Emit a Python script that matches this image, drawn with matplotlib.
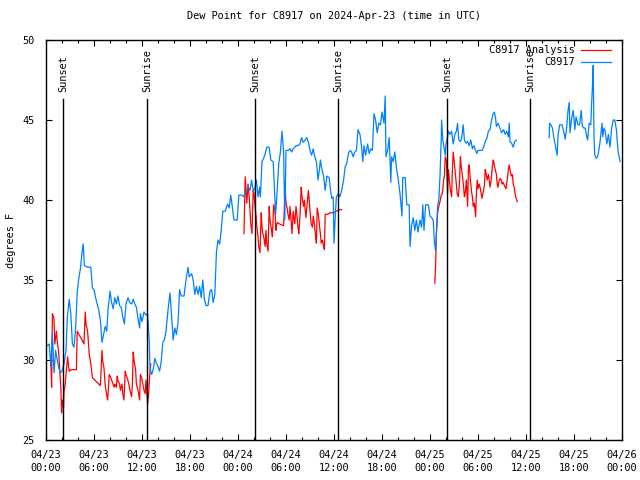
import datetime as dt

import matplotlib
matplotlib.use("Agg")
import matplotlib.pyplot as plt
import matplotlib.dates as mdates
import numpy as np

# ── Data (hours after 2024-04-23 00:00 UTC, dew point in F) ──────────
obs_hours = [
    0.17, 0.4, 0.6, 0.8, 1.0, 1.2, 1.4, 1.6, 1.8, 2.0, 2.25, 2.5, 2.67, 2.9,
    3.1, 3.3, 3.5, 3.7, 3.9, 4.1, 4.3, 4.5, 4.65, 4.8, 5.2, 5.6, 5.8, 6.0,
    6.2, 6.4, 6.6, 6.8, 7.0, 7.2, 7.4, 7.6, 7.75, 8.0, 8.2, 8.4, 8.6, 8.8,
    9.0, 9.2, 9.4, 9.6, 9.8, 10.0, 10.25, 10.45, 10.7, 10.9, 11.1, 11.3,
    11.5, 11.7, 11.8, 12.0, 12.25, 12.5, 12.7, 12.9, 13.0, 13.2, 13.4, 13.6,
    13.8, 14.0, 14.2, 14.4, 14.6, 14.8, 15.0, 15.25, 15.5, 15.7, 15.9, 16.1,
    16.3, 16.5, 16.7, 16.9, 17.25, 17.5, 17.75, 17.9, 18.2, 18.4, 18.6, 18.8,
    19.0, 19.2, 19.4, 19.6, 19.8, 20.0, 20.25, 20.5, 20.7, 20.9, 21.1, 21.3,
    21.5, 21.7, 21.9, 22.1, 22.4, 22.7, 22.9, 23.1, 23.3, 23.5, 23.9, 24.1,
    24.5, 24.7, 24.9, 25.1, 25.3, 25.5, 25.7, 25.9, 26.1, 26.3, 26.5, 26.7,
    26.8, 27.0, 27.2, 27.4, 27.6, 27.9, 28.1, 28.4, 28.55, 28.7, 28.9, 29.1,
    29.3, 29.5, 29.7, 29.85, 30.0, 30.3, 30.5, 30.7, 30.9, 31.1, 31.3, 31.5,
    31.75, 31.95, 32.15, 32.4, 32.6, 32.8, 33.0, 33.2, 33.4, 33.6, 33.8,
    34.0, 34.15, 34.3, 34.45, 34.7, 34.9, 35.1, 35.4, 35.5, 35.7, 35.9, 36.0,
    36.2, 36.3, 36.55, 36.75, 36.95, 37.2, 37.4, 37.6, 37.8, 38.0, 38.2,
    38.4, 38.6, 38.8, 39.0, 39.25, 39.45, 39.6, 39.75, 39.95, 40.2, 40.4,
    40.6, 40.8, 41.0, 41.2, 41.4, 41.6, 41.8, 42.0, 42.25, 42.4, 42.5, 42.7,
    42.9, 43.1, 43.2, 43.4, 43.6, 43.8, 44.0, 44.25, 44.5, 44.6, 44.9, 45.1,
    45.4, 45.5, 45.7, 45.9, 46.1, 46.3, 46.5, 46.75, 46.95, 47.1, 47.25,
    47.45, 47.8, 48.0, 48.2, 48.4, 48.55, 48.7, 48.8, 48.95, 49.1, 49.25,
    49.4, 49.45, 49.6, 49.75, 49.9, 50.0, 50.2, 50.3, 50.5, 50.7, 50.9, 51.1,
    51.3, 51.45, 51.6, 51.8, 51.95, 52.15, 52.3, 52.5, 52.7, 52.9, 53.1,
    53.3, 53.5, 53.7, 53.85, 54.0, 54.25, 54.5, 54.7, 54.9, 55.1, 55.3, 55.5,
    55.7, 55.9, 56.05, 56.2, 56.3, 56.5, 56.75, 56.95, 57.2, 57.4, 57.6,
    57.8, 57.9, 58.0, 58.2, 58.4, 58.6, 58.8,
    60.8,
    62.9, 62.95, 63.1, 63.3, 63.5, 63.7, 63.9, 64.0, 64.2, 64.5, 64.7, 64.9,
    65.1, 65.25, 65.4, 65.5, 65.7, 65.9, 66.1, 66.25, 66.5, 66.7, 66.9,
    67.05, 67.2, 67.4, 67.6, 67.7, 67.9, 68.1, 68.2, 68.35, 68.4, 68.5, 68.6,
    68.8, 69.0, 69.25, 69.5, 69.6, 69.75, 69.9, 70.1, 70.3, 70.5, 70.7, 70.9,
    71.1, 71.3, 71.5, 71.75,
]
obs_dewpt = [
    30.9, 31.0, 29.6, 31.7, 29.2, 30.6, 30.0, 29.5, 29.2, 29.3, 29.75, 30.6,
    32.7, 33.8, 32.9, 31.0, 30.8, 32.0, 34.2, 35.1, 35.7, 36.7, 37.25, 35.9,
    35.8, 35.8, 34.5, 34.4, 33.9, 33.5, 33.1, 32.5, 31.1, 31.6, 32.1, 31.8,
    33.1, 34.3, 33.6, 33.2, 33.9, 33.5, 34.0, 33.4, 33.3, 32.7, 32.25, 33.5,
    33.9, 33.6, 33.5, 33.8, 33.5, 33.3, 32.6, 32.0, 32.9, 32.4, 33.0, 32.8,
    32.9, 31.2, 29.5, 29.1, 29.4, 30.1, 29.8, 29.6, 29.3, 29.9, 31.1, 31.25,
    31.8, 33.1, 34.2, 32.7, 31.25, 32.0, 31.6, 32.3, 34.4, 34.0, 34.0, 35.0,
    35.8, 35.2, 35.4, 35.0, 34.1, 34.6, 34.1, 34.6, 33.9, 35.0, 33.8, 33.4,
    33.4, 34.3, 34.4, 33.6, 34.1, 36.7, 37.5, 37.25, 38.1, 39.3, 39.3, 39.75,
    39.5, 40.3, 39.5, 38.75, 38.75, 40.3, 40.3, 40.2, 40.4, 40.6, 40.8, 40.6,
    41.25, 40.6, 40.7, 41.25, 40.2, 40.8, 40.2, 42.4, 42.6, 42.9, 43.3, 43.3,
    42.5, 42.4, 40.8, 39.1, 40.6, 42.3, 43.0, 44.3, 43.0, 38.75, 43.1, 43.1,
    43.2, 43.0, 43.2, 43.3, 43.4, 43.4, 43.5, 43.9, 43.6, 43.75, 43.9, 43.6,
    43.1, 42.8, 43.2, 42.7, 42.4, 41.25, 41.8, 42.5, 42.0, 41.5, 40.6, 41.5,
    41.4, 40.9, 40.1, 40.2, 37.3, 39.4, 40.2, 40.4, 40.2, 40.6, 41.25, 42.1,
    42.3, 42.9, 43.1, 43.0, 42.7, 43.0, 43.1, 44.4, 44.1, 43.3, 42.4, 43.4,
    42.8, 43.5, 42.9, 43.2, 43.1, 45.4, 45.0, 44.2, 44.8, 44.7, 45.5, 44.8,
    46.5, 42.7, 43.1, 43.9, 41.1, 42.7, 42.4, 43.0, 42.0, 41.4, 40.4, 39.0,
    41.4, 41.4, 39.7, 39.7, 37.1, 38.4, 38.9, 38.1, 38.75, 38.0, 38.75, 38.3,
    39.7, 38.1, 39.7, 39.7, 39.0, 38.9, 38.75, 37.4, 36.8, 37.9, 39.6, 40.0,
    41.5, 43.75, 45.0, 43.75, 43.3, 42.8, 43.5, 43.96, 44.3, 44.1, 44.3, 43.5,
    44.1, 44.3, 44.8, 43.75, 43.65, 43.85, 44.7, 43.75, 43.55, 43.65, 43.4,
    43.75, 43.2, 43.4, 43.1, 42.9, 43.1, 43.1, 43.1, 43.3, 43.65, 43.85,
    44.3, 44.4, 45.0, 45.4, 45.5, 45.1, 44.6, 44.8, 44.5, 44.2, 44.4, 44.1,
    44.3, 43.95, 44.8, 43.65, 43.55, 43.3, 43.65, 43.75,
    np.nan,
    43.9, 44.8, 44.7, 44.5, 43.85, 43.3, 42.8, 44.0, 44.7, 44.7, 44.3, 43.8,
    44.6, 45.6, 46.1, 44.2, 45.1, 45.6, 44.4, 45.2, 44.7, 44.7, 45.6, 44.6,
    44.5, 44.5, 43.95, 43.75, 44.8, 44.7, 46.0, 47.6, 48.4, 43.95, 42.8, 42.6,
    42.8, 43.6, 44.8, 43.95, 44.5, 44.3, 43.5, 44.1, 43.3, 44.5, 45.0, 45.0,
    44.4, 43.1, 42.4,
]

ana_hours = [
    0.6, 0.7, 0.8, 1.0, 1.1, 1.3, 1.4, 1.6, 1.7, 1.85, 1.95, 2.05, 2.2, 2.25,
    2.4, 2.5, 2.7, 2.8, 2.9, 3.2, 3.5, 3.8, 3.9, 4.1, 4.35, 4.55, 4.75, 4.9,
    5.0, 5.2, 5.4, 5.6, 5.8, 6.0, 6.2, 6.4, 6.6, 6.8, 7.0, 7.1, 7.25, 7.4,
    7.5, 7.7, 7.8, 7.9, 8.1, 8.3, 8.5, 8.6, 8.8, 8.9, 9.0, 9.2, 9.3, 9.5,
    9.6, 9.75, 9.9, 10.0, 10.2, 10.35, 10.5, 10.7, 10.8, 10.9, 11.0, 11.2,
    11.3, 11.5, 11.7, 11.8, 11.95, 12.1, 12.25, 12.4, 12.5, 12.7, 12.8, 13.0,
    13.1,
    19.0,
    24.75, 24.9, 25.0, 25.1, 25.25, 25.4, 25.5, 25.6, 25.75, 25.9, 26.0,
    26.1, 26.25, 26.4, 26.5, 26.6, 26.75, 26.9, 27.0, 27.1, 27.25, 27.4,
    27.5, 27.6, 27.75, 27.9, 28.0, 28.2, 28.3, 28.45, 28.6, 28.75, 28.85,
    28.95, 29.2, 29.7, 29.9, 30.0, 30.1, 30.25, 30.4, 30.5, 30.6, 30.75,
    30.9, 31.0, 31.1, 31.25, 31.4, 31.5, 31.6, 31.75, 31.9, 32.0, 32.2,
    32.3, 32.4, 32.5, 32.65, 32.8, 32.9, 33.0, 33.15, 33.3, 33.4, 33.55,
    33.7, 33.8, 33.9, 34.05, 34.2, 34.3, 34.4, 34.55, 34.7, 34.8, 34.9,
    35.2, 35.5, 35.9, 36.3, 36.75, 36.95,
    42.0,
    48.6, 48.7, 48.8, 48.95, 49.1, 49.25, 49.4, 49.55, 49.7, 49.8, 49.9,
    50.05, 50.2, 50.3, 50.4, 50.55, 50.7, 50.8, 50.9, 51.05, 51.2, 51.3,
    51.4, 51.55, 51.7, 51.8, 51.9, 52.05, 52.2, 52.3, 52.4, 52.55, 52.7,
    52.8, 52.9, 53.05, 53.2, 53.3, 53.4, 53.55, 53.7, 53.8, 53.9, 54.0,
    54.15, 54.3, 54.4, 54.5, 54.65, 54.8, 54.9, 55.0, 55.15, 55.3, 55.4,
    55.5, 55.65, 55.8, 55.9, 56.0, 56.15, 56.3, 56.4, 56.5, 56.65, 56.8,
    56.9, 57.0, 57.15, 57.3, 57.4, 57.5, 57.65, 57.8, 57.9, 58.0, 58.15,
    58.3, 58.4, 58.55, 58.7, 58.8, 58.9,
]
ana_dewpt = [
    30.2, 28.3, 32.9, 32.6, 31.0, 31.8, 31.2, 30.4, 29.5, 28.3, 26.7, 27.5,
    27.0, 28.0, 28.5, 29.1, 30.2, 29.75, 29.3, 29.4, 29.4, 29.4, 31.8, 31.6,
    31.4, 31.2, 31.0, 33.0, 32.25, 31.8, 30.4, 29.75, 28.9, 28.8, 28.7, 28.6,
    28.5, 28.4, 30.6, 29.9, 29.5, 28.4, 28.1, 27.5, 28.2, 29.1, 28.9, 28.6,
    28.3, 28.5, 28.3, 29.0, 28.7, 28.5, 28.1, 28.5, 27.9, 27.5, 29.3, 29.1,
    28.8, 28.5, 28.1, 27.7, 28.5, 30.5, 30.0, 29.4, 28.5, 28.1, 27.5, 29.1,
    28.9, 28.5, 28.1, 27.9, 28.75, 27.25, 27.7, 29.3, 29.75,
    np.nan,
    37.9, 41.45, 40.6, 39.8, 41.0, 40.2, 39.4, 38.5, 37.9, 40.6, 40.4, 39.8,
    39.0, 38.1, 37.7, 37.1, 36.7, 39.2, 38.3, 37.9, 37.6, 37.1, 38.1, 37.3,
    36.8, 39.6, 38.75, 38.1, 37.7, 39.7, 39.4, 38.1, 38.5, 38.6, 38.5, 38.4,
    40.7, 39.8, 39.6, 39.1, 38.75, 39.6, 39.0, 37.9, 39.3, 38.9, 38.5, 39.6,
    38.9, 38.3, 37.9, 39.0, 40.8, 40.2, 39.6, 40.0, 39.4, 38.9, 39.8, 40.6,
    40.0, 39.3, 38.5, 38.3, 39.0, 38.5, 37.7, 37.3, 39.5, 39.1, 38.3, 37.9,
    37.3, 37.5, 37.1, 36.9, 39.1, 39.1, 39.2, 39.2, 39.3, 39.4, 39.4,
    np.nan,
    34.8, 35.9, 37.9, 39.2, 39.6, 39.9, 40.3, 40.4, 41.25, 41.5, 42.7, 42.5,
    40.4, 41.9, 41.35, 40.6, 40.2, 41.9, 43.0, 42.3, 41.5, 41.0, 40.4, 40.2,
    41.25, 42.7, 42.1, 41.5, 40.8, 40.2, 40.4, 41.25, 39.6, 41.9, 42.2, 41.25,
    40.5, 40.2, 39.6, 39.8, 38.96, 40.4, 41.25, 40.7, 41.0, 40.7, 40.4, 40.1,
    40.5, 40.9, 41.9, 41.7, 41.25, 41.6, 41.25, 40.8, 41.25, 42.1, 42.5,
    42.3, 41.9, 41.6, 41.0, 40.8, 41.25, 41.35, 41.25, 41.0, 41.1, 40.9,
    40.8, 40.7, 41.25, 41.9, 42.2, 41.9, 41.5, 41.6, 41.0, 40.7, 40.2, 40.1,
    39.9,
]

sun_hours = [2.17, 12.67, 26.17, 36.5, 50.17, 60.5]
sun_labels = ["Sunset", "Sunrise", "Sunset", "Sunrise", "Sunset", "Sunrise"]

BASE = dt.datetime(2024, 4, 23)
MONO = "DejaVu Sans Mono"
FS = 7.4
RED = "#ff0000"
BLUE = "#0080ff"


def to_times(hours):
    return [BASE + dt.timedelta(hours=h) for h in hours]


def main():
    fig = plt.figure(figsize=(6.4, 4.8), dpi=100)
    ax = fig.add_axes([46 / 640, 40 / 480, 576 / 640, 400 / 480])

    ax.plot(to_times(ana_hours), ana_dewpt, color=RED, lw=0.9)
    ax.plot(to_times(obs_hours), obs_dewpt, color=BLUE, lw=0.9)

    # sunrise / sunset markers
    for h, lab in zip(sun_hours, sun_labels):
        t = BASE + dt.timedelta(hours=h)
        ax.plot([t, t], [25, 46.3], color="black", lw=1.0)
        ax.text(t, 46.75, lab, rotation=90, ha="center", va="bottom",
                fontsize=FS, family=MONO)

    ax.set_xlim(BASE, BASE + dt.timedelta(hours=72))
    ax.set_ylim(25, 50)
    ax.set_yticks([25, 30, 35, 40, 45, 50])

    ax.xaxis.set_major_locator(mdates.HourLocator(byhour=[0, 6, 12, 18]))
    ax.xaxis.set_minor_locator(mdates.HourLocator(interval=2))
    ax.xaxis.set_major_formatter(mdates.DateFormatter("%m/%d\n%H:%M"))

    ax.tick_params(which="both", direction="in", top=True, right=True,
                   labelsize=FS, width=0.8)
    ax.tick_params(which="major", length=4.5)
    ax.tick_params(which="minor", length=2.5)
    ax.tick_params(axis="x", pad=7)
    ax.tick_params(axis="y", pad=8)
    for lbl in ax.get_xticklabels() + ax.get_yticklabels():
        lbl.set_family(MONO)
        lbl.set_linespacing(1.45)
    for sp in ax.spines.values():
        sp.set_linewidth(1.0)

    fig.text(11 / 640, 0.5, "degrees F", rotation=90, ha="center",
             va="center", fontsize=FS, family=MONO)
    ax.set_title("Dew Point for C8917 on 2024-Apr-23 (time in UTC)",
                 fontsize=FS, family=MONO, pad=15)

    # legend in gnuplot style
    for y, name, col in [(0.975, "C8917 Analysis", RED), (0.945, "C8917", BLUE)]:
        ax.text(0.918, y, name, transform=ax.transAxes, ha="right",
                va="center", fontsize=FS, family=MONO)
        ax.plot([0.929, 0.981], [y, y], transform=ax.transAxes, color=col,
                lw=0.9)

    fig.savefig("out.png", dpi=100)
    plt.close(fig)


if __name__ == "__main__":
    main()
